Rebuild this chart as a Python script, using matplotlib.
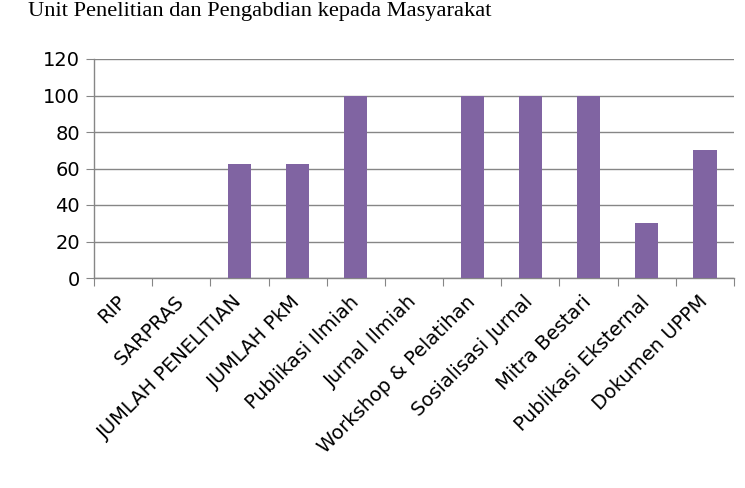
import matplotlib
import numpy as np

matplotlib.use("Agg")
import matplotlib.pyplot as plt

categories = ["RIP", "SARPRAS", "JUMLAH PENELITIAN", "JUMLAH PkM", "Publikasi Ilmiah",
              "Jurnal Ilmiah", "Workshop & Pelatihan", "Sosialisasi Jurnal",
              "Mitra Bestari", "Publikasi Eksternal", "Dokumen UPPM"]
values = [0, 0, 62.5, 62.5, 100, 0, 100, 100, 100, 30, 70]
y_ticks = [0, 20, 40, 60, 80, 100, 120]

grid_col = "#868686"
bar_col = "#8064A2"

fig = plt.figure(figsize=(7.45, 4.88), dpi=100)
ax = fig.add_axes([94 / 745, 1 - 278 / 488, 640 / 745, 219 / 488])

x = np.arange(len(categories))
ax.bar(x, values, width=0.4, color=bar_col, zorder=3)

ax.set_xlim(-0.5, len(categories) - 0.5)
ax.set_ylim(0, 120)
ax.set_yticks(y_ticks)
ax.yaxis.grid(True, color=grid_col, linewidth=1)
ax.set_axisbelow(True)

for s in ["top", "right"]:
    ax.spines[s].set_visible(False)
for s in ["left", "bottom"]:
    ax.spines[s].set_color(grid_col)
    ax.spines[s].set_linewidth(1)

ax.tick_params(axis="y", colors=grid_col, length=6, labelcolor="black", labelsize=14, pad=4)
ax.set_xticks(np.arange(len(categories) + 1) - 0.5)
ax.set_xticklabels([])
ax.tick_params(axis="x", colors=grid_col, length=6)
ax.set_xticks(x, minor=True)
ax.set_xticklabels(categories, minor=True, rotation=45, ha="right", va="center",
                   rotation_mode="anchor", fontsize=14)
ax.tick_params(axis="x", which="minor", length=0, pad=15, labelcolor="black")

fig.text(28 / 745, 1 - 16 / 488, "Unit Penelitian dan Pengabdian kepada Masyarakat",
         family="Liberation Serif", fontsize=16.1, va="baseline", ha="left")

fig.savefig("out.png", dpi=100)
